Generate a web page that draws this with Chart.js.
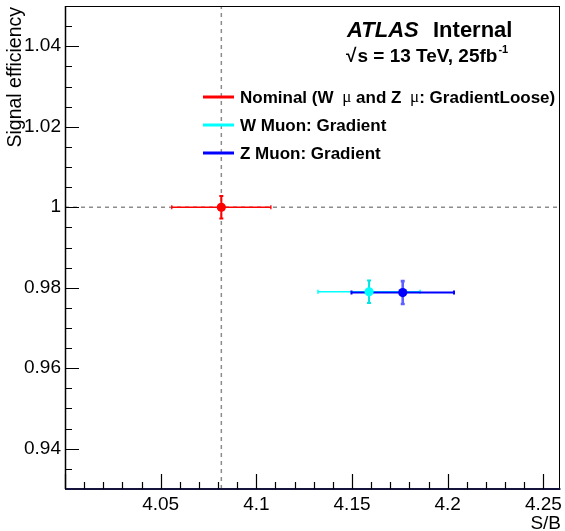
<!DOCTYPE html>
<html><head><meta charset="utf-8">
<script src="https://cdn.jsdelivr.net/npm/chart.js@4.4.1/dist/chart.umd.min.js"></script>
<style>html,body{margin:0;padding:0;background:#fff;overflow:hidden}</style>
</head><body>
<canvas id="c" width="565" height="531" style="width:565px;height:531px;display:block"></canvas>
<script>
// ---- data ----
const seriesNames = ["Nominal (W μ and Z μ: GradientLoose)", "W Muon: Gradient", "Z Muon: Gradient"];
const seriesColors = ["#ff0000", "#00ffff", "#0000ff"];
const sbValues = [4.0817, 4.1589, 4.1765];
const sbErrors = [0.0259, 0.0267, 0.0268];
const effValues = [1.0, 0.9790, 0.9788];
const effErrors = [0.0028, 0.0028, 0.00285];
const xTickValues = [4.05, 4.1, 4.15, 4.2, 4.25];
const xTickLabels = ["4.05", "4.1", "4.15", "4.2", "4.25"];
const yTickValues = [0.94, 0.96, 0.98, 1.0, 1.02, 1.04];
const yTickLabels = ["0.94", "0.96", "0.98", "1", "1.02", "1.04"];
const xRange = [4.0, 4.2589];
const yRange = [0.93, 1.05];
const refX = sbValues[0], refY = effValues[0];

const FONT = "'Liberation Sans', Arial, Helvetica, sans-serif";

const datasets = seriesNames.map((name, i) => ({
  label: name,
  data: [{x: sbValues[i], y: effValues[i]}],
  xErr: [sbErrors[i]],
  yErr: [effErrors[i]],
  backgroundColor: seriesColors[i],
  borderColor: seriesColors[i],
  borderWidth: 0,
  pointRadius: 4.6,
  pointHoverRadius: 4.6,
  showLine: false
}));

const errStyle = [
  {xw: 1.3, yw: 2, yc: "#ff0000"},
  {xw: 1.5, yw: 2, yc: "#00e5e5"},
  {xw: 2, yw: 2.6, yc: "#6060ff"}
];

const rootPlugin = {
  id: "rootStyle",
  beforeDatasetsDraw(chart) {
    const ctx = chart.ctx, xs = chart.scales.x, ys = chart.scales.y, a = chart.chartArea;
    ctx.save();
    ctx.strokeStyle = "#8c8c8c"; ctx.lineWidth = 1.5; ctx.setLineDash([4, 4]);
    const px = xs.getPixelForValue(refX), py = ys.getPixelForValue(refY);
    ctx.beginPath(); ctx.moveTo(px, a.bottom); ctx.lineTo(px, a.top); ctx.stroke();
    ctx.beginPath(); ctx.moveTo(a.left, py); ctx.lineTo(a.right, py); ctx.stroke();
    ctx.setLineDash([]);
    chart.data.datasets.forEach((ds, i) => {
      ds.data.forEach((p, j) => {
        const cx = xs.getPixelForValue(p.x), cy = ys.getPixelForValue(p.y);
        const x1 = xs.getPixelForValue(p.x - ds.xErr[j]), x2 = xs.getPixelForValue(p.x + ds.xErr[j]);
        const y1 = ys.getPixelForValue(p.y - ds.yErr[j]), y2 = ys.getPixelForValue(p.y + ds.yErr[j]);
        const st = errStyle[i];
        ctx.strokeStyle = ds.borderColor; ctx.lineWidth = st.xw;
        ctx.beginPath(); ctx.moveTo(x1, cy); ctx.lineTo(x2, cy);
        ctx.moveTo(x1, cy - 2); ctx.lineTo(x1, cy + 2);
        ctx.moveTo(x2, cy - 2); ctx.lineTo(x2, cy + 2); ctx.stroke();
        ctx.strokeStyle = st.yc; ctx.lineWidth = st.yw;
        ctx.beginPath(); ctx.moveTo(cx, y1); ctx.lineTo(cx, y2);
        ctx.moveTo(cx - 2, y1); ctx.lineTo(cx + 2, y1);
        ctx.moveTo(cx - 2, y2); ctx.lineTo(cx + 2, y2); ctx.stroke();
      });
    });
    ctx.restore();
  },
  afterDraw(chart) {
    const ctx = chart.ctx, xs = chart.scales.x, ys = chart.scales.y, a = chart.chartArea;
    ctx.save();
    ctx.strokeStyle = "#000"; ctx.lineWidth = 1;
    ctx.strokeRect(Math.round(a.left) + 0.5, Math.round(a.top) + 0.5, Math.round(a.right - a.left) - 1, Math.round(a.bottom - a.top));
    ctx.lineWidth = 1.5;
    ctx.beginPath(); ctx.moveTo(a.left + 0.5, a.top); ctx.lineTo(a.left + 0.5, a.bottom); ctx.stroke();
    ctx.strokeStyle = "#14143c"; ctx.lineWidth = 2;
    ctx.beginPath(); ctx.moveTo(a.left, a.bottom); ctx.lineTo(a.right, a.bottom); ctx.stroke();
    ctx.strokeStyle = "#000"; ctx.lineWidth = 1.2;
    ctx.beginPath();
    for (let k = 0; k <= 26; k++) {
      const v = xRange[0] + k * 0.01;
      if (v > xRange[1]) break;
      const major = k % 5 === 0;
      const p = Math.round(xs.getPixelForValue(v)) + 0.5;
      ctx.moveTo(p, a.bottom); ctx.lineTo(p, a.bottom - (major ? 15 : 7));
    }
    for (let k = 0; k <= 24; k++) {
      const v = yRange[0] + k * 0.005;
      const major = k % 4 === 2;
      const p = Math.round(ys.getPixelForValue(v)) + 0.5;
      if (p < a.top + 1 || p > a.bottom - 1) continue;
      ctx.moveTo(a.left, p); ctx.lineTo(a.left + (major ? 14 : 7), p);
    }
    ctx.stroke();
    ctx.fillStyle = "#000";
    ctx.font = "19px " + FONT;
    ctx.textAlign = "right"; ctx.textBaseline = "alphabetic";
    ctx.fillText("S/B", 561, 529);
    ctx.save();
    ctx.font = "19.5px " + FONT;
    ctx.translate(21, 7); ctx.rotate(-Math.PI / 2);
    ctx.fillText("Signal efficiency", 0, 0);
    ctx.restore();
    ctx.textAlign = "left";
    ctx.font = "italic bold 22px " + FONT;
    ctx.fillText("ATLAS", 347, 37);
    ctx.font = "bold 22px " + FONT;
    ctx.fillText("Internal", 433, 37);
    // sqrt(s) line
    ctx.font = "bold 19px " + FONT;
    ctx.fillText("√", 346, 62);
    let xx = 346 + ctx.measureText("√").width + 1;
    const t1 = "s = 13 TeV, 25fb";
    ctx.fillText(t1, xx, 62);
    xx += ctx.measureText(t1).width;
    ctx.font = "bold 11px " + FONT;
    ctx.fillText("-1", xx + 1, 53);
    const rows = [97, 125, 153];
    chart.data.datasets.forEach((ds, i) => {
      const y = rows[i];
      ctx.strokeStyle = ds.borderColor; ctx.lineWidth = 3;
      ctx.beginPath(); ctx.moveTo(203, y); ctx.lineTo(234, y); ctx.stroke();
      ctx.fillStyle = "#000"; ctx.textBaseline = "middle";
      let x = 240;
      const parts = ds.label.split("μ");
      parts.forEach((seg, k) => {
        ctx.font = "bold 17px " + FONT;
        ctx.fillText(seg, x, y + 1);
        x += ctx.measureText(seg).width;
        if (k < parts.length - 1) {
          x += 4;
          ctx.font = "17px 'Liberation Serif', 'DejaVu Serif', serif";
          ctx.fillText("μ", x, y + 1);
          x += ctx.measureText("μ").width;
        }
      });
    });
    ctx.restore();
  }
};

new Chart(document.getElementById("c"), {
  type: "scatter",
  data: {datasets},
  options: {
    responsive: false,
    animation: false,
    devicePixelRatio: 1,
    layout: {padding: {left: 0, right: 3, top: 6, bottom: 0}},
    plugins: {legend: {display: false}, tooltip: {enabled: false}},
    scales: {
      x: {
        type: "linear", min: xRange[0], max: xRange[1],
        grid: {display: false, drawTicks: false}, border: {display: false},
        afterBuildTicks: s => { s.ticks = xTickValues.map(v => ({value: v})); },
        afterFit: s => { s.height = 42; s.paddingLeft = 0; s.paddingRight = 0; },
        ticks: {autoSkip: false, maxRotation: 0, padding: 4, color: "#000",
          font: {family: FONT, size: 19}, callback: (v, i) => xTickLabels[i]}
      },
      y: {
        type: "linear", min: yRange[0], max: yRange[1],
        grid: {display: false, drawTicks: false}, border: {display: false},
        afterBuildTicks: s => { s.ticks = yTickValues.map(v => ({value: v})); },
        afterFit: s => { s.width = 65; s.paddingTop = 0; s.paddingBottom = 0; },
        ticks: {autoSkip: false, padding: 4, color: "#000",
          font: {family: FONT, size: 19}, callback: (v, i) => yTickLabels[i]}
      }
    }
  },
  plugins: [rootPlugin]
});
</script>
</body></html>
